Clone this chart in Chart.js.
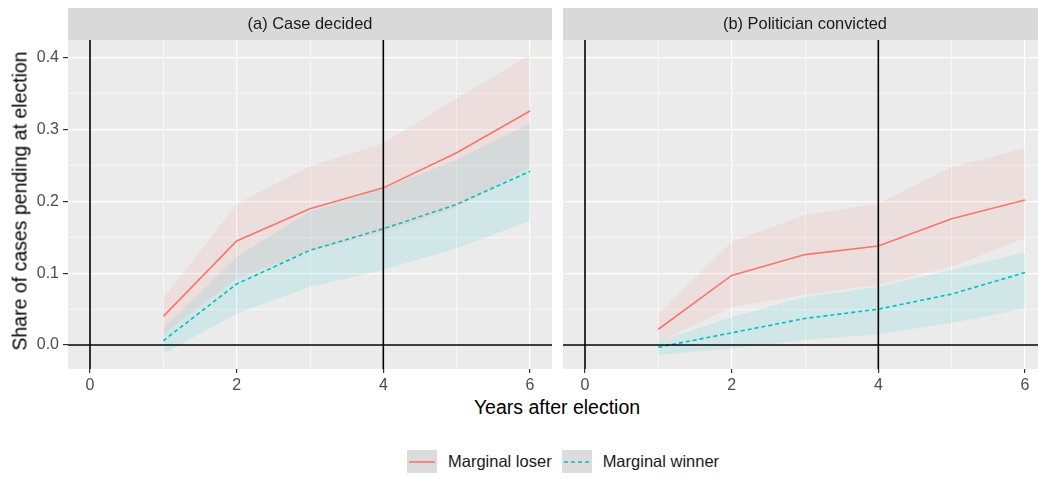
<!DOCTYPE html>
<html>
<head>
<meta charset="utf-8">
<script src="https://cdn.jsdelivr.net/npm/chart.js@4/dist/chart.umd.min.js"></script>
<style>
    html, body { margin: 0; padding: 0; background: #fff; width: 1038px; height: 479px; overflow: hidden; position: relative; font-family: "Liberation Sans", Arial, sans-serif; }
    .panel { position: absolute; }
    #ytitle { position: absolute; left: 20px; top: 201px; transform: translate(-50%, -50%) rotate(-90deg); font-size: 19.5px; color: #000; white-space: nowrap; }
    #xtitle { position: absolute; left: 557px; top: 407px; transform: translate(-50%, -50%); font-size: 19.5px; color: #000; white-space: nowrap; }
    #legend { position: absolute; left: 407px; top: 450px; display: flex; align-items: center; font-size: 16.5px; color: #1a1a1a; }
    .key { width: 30px; height: 23px; background: #DCDCDC; display: flex; align-items: center; justify-content: center; }
    .lab { margin-left: 11px; margin-right: 10px; }
</style>
</head>
<body>
<div class="panel" style="left:0; top:8px; width:552px; height:385px;"><canvas id="panelA"></canvas></div>
<div class="panel" style="left:563px; top:8px; width:484px; height:385px;"><canvas id="panelB"></canvas></div>
<div id="ytitle">Share of cases pending at election</div>
<div id="xtitle">Years after election</div>
<div id="legend">
    <div class="key"><svg width="30" height="23"><line x1="2" y1="12" x2="28" y2="12" stroke="#F8766D" stroke-width="1.6"/></svg></div>
    <span class="lab">Marginal loser</span>
    <div class="key"><svg width="30" height="23"><line x1="2" y1="12" x2="28" y2="12" stroke="#00BFC4" stroke-width="1.6" stroke-dasharray="4,3"/></svg></div>
    <span class="lab">Marginal winner</span>
</div>
<script>
// data
const years = [1, 2, 3, 4, 5, 6];

const loserA    = [0.040, 0.145, 0.190, 0.219, 0.268, 0.326];
const loserAHi  = [0.065, 0.197, 0.249, 0.281, 0.344, 0.404];
const loserALo  = [0.015, 0.093, 0.131, 0.157, 0.192, 0.248];
const winnerA   = [0.006, 0.085, 0.132, 0.162, 0.196, 0.242];
const winnerAHi = [0.023, 0.123, 0.186, 0.218, 0.258, 0.309];
const winnerALo = [-0.012, 0.044, 0.081, 0.105, 0.135, 0.173];

const loserB    = [0.022, 0.097, 0.126, 0.138, 0.176, 0.202];
const loserBHi  = [0.044, 0.144, 0.181, 0.197, 0.248, 0.274];
const loserBLo  = [0.004, 0.053, 0.070, 0.084, 0.109, 0.149];
const winnerB   = [-0.003, 0.017, 0.037, 0.050, 0.071, 0.101];
const winnerBHi = [0.005, 0.039, 0.067, 0.081, 0.105, 0.129];
const winnerBLo = [-0.014, -0.005, 0.007, 0.015, 0.031, 0.051];

const yTicks = [0, 0.05, 0.1, 0.15, 0.2, 0.25, 0.3, 0.35, 0.4];
const xTicks = [0, 1, 2, 3, 4, 5, 6];
const vLines = [0, 4];
const hLines = [0];

const RED = '#F8766D', TEAL = '#00BFC4';
const FONT = '"Liberation Sans", Arial, sans-serif';

function pts(ys) { return years.map((x, i) => ({ x: x, y: ys[i] })); }

const isMajorY = v => Math.abs(Math.round(v * 10) - v * 10) < 1e-6;
const isMajorX = v => v % 2 === 0;

const panelPlugin = {
    id: 'panel',
    beforeDraw(chart, args, opts) {
        const { ctx, chartArea: a } = chart;
        ctx.save();
        ctx.fillStyle = '#EBEBEB';
        ctx.fillRect(a.left, a.top, a.right - a.left, a.bottom - a.top);
        ctx.fillStyle = '#D9D9D9';
        ctx.fillRect(a.left, a.top - 32, a.right - a.left, 32);
        ctx.fillStyle = '#1A1A1A';
        ctx.font = '16.4px ' + FONT;
        ctx.textAlign = 'center';
        ctx.textBaseline = 'middle';
        ctx.fillText(opts.title, (a.left + a.right) / 2, a.top - 15.5);
        ctx.restore();
    },
    afterDatasetsDraw(chart) {
        const { ctx, chartArea: a, scales } = chart;
        ctx.save();
        ctx.beginPath();
        ctx.rect(a.left, a.top, a.right - a.left, a.bottom - a.top);
        ctx.clip();
        ctx.strokeStyle = '#000';
        ctx.lineWidth = 1.6;
        vLines.forEach(v => {
            const px = scales.x.getPixelForValue(v);
            ctx.beginPath(); ctx.moveTo(px, a.top); ctx.lineTo(px, a.bottom); ctx.stroke();
        });
        hLines.forEach(v => {
            const py = scales.y.getPixelForValue(v);
            ctx.beginPath(); ctx.moveTo(a.left, py); ctx.lineTo(a.right, py); ctx.stroke();
        });
        ctx.restore();
    }
};

function makePanel(id, title, showY, s) {
    const band = (data, color, fill) => ({
        data: pts(data), borderWidth: 0, pointRadius: 0, fill: fill,
        backgroundColor: color, borderColor: 'transparent'
    });
    new Chart(document.getElementById(id), {
        type: 'line',
        data: {
            datasets: [
                band(s.loLo, 'rgba(248,118,109,0.11)', false),
                band(s.loHi, 'rgba(248,118,109,0.11)', '-1'),
                band(s.wiLo, 'rgba(0,191,196,0.11)', false),
                band(s.wiHi, 'rgba(0,191,196,0.11)', '-1'),
                { data: pts(s.lo), borderColor: RED, borderWidth: 1.6, pointRadius: 0, fill: false, tension: 0 },
                { data: pts(s.wi), borderColor: TEAL, borderWidth: 1.6, borderDash: [4, 3], pointRadius: 0, fill: false, tension: 0 }
            ]
        },
        options: {
            responsive: true,
            maintainAspectRatio: false,
            animation: false,
            events: [],
            layout: { padding: { top: 32, left: 0, right: 0, bottom: 0 } },
            plugins: { legend: { display: false }, tooltip: { enabled: false }, panel: { title: title } },
            scales: {
                x: {
                    type: 'linear', min: -0.3, max: 6.3,
                    afterBuildTicks: sc => { sc.ticks = xTicks.map(v => ({ value: v })); },
                    afterFit: sc => { sc.height = 24; sc.paddingLeft = 0; sc.paddingRight = 0; },
                    border: { display: false },
                    grid: {
                        color: '#FFFFFF',
                        lineWidth: c => isMajorX(c.tick.value) ? 1.2 : 0.6,
                        tickColor: c => isMajorX(c.tick.value) ? '#333333' : 'rgba(0,0,0,0)',
                        tickLength: 4
                    },
                    ticks: {
                        color: '#4D4D4D', padding: 3, maxRotation: 0, autoSkip: false,
                        font: { size: 16, family: FONT },
                        callback: v => isMajorX(v) ? String(v) : ''
                    }
                },
                y: {
                    type: 'linear', min: -0.0334, max: 0.425,
                    afterBuildTicks: sc => { sc.ticks = yTicks.map(v => ({ value: v })); },
                    afterFit: sc => { sc.width = showY ? 68 : 0; sc.paddingTop = 0; sc.paddingBottom = 0; },
                    border: { display: false },
                    grid: {
                        color: '#FFFFFF',
                        lineWidth: c => isMajorY(c.tick.value) ? 1.2 : 0.6,
                        drawTicks: showY,
                        tickColor: c => isMajorY(c.tick.value) ? '#333333' : 'rgba(0,0,0,0)',
                        tickLength: 5
                    },
                    ticks: {
                        display: showY, color: '#4D4D4D', padding: 4, autoSkip: false,
                        font: { size: 16, family: FONT },
                        callback: v => isMajorY(v) ? v.toFixed(1) : ''
                    }
                }
            }
        },
        plugins: [panelPlugin]
    });
}

makePanel('panelA', '(a) Case decided', true,
    { lo: loserA, loHi: loserAHi, loLo: loserALo, wi: winnerA, wiHi: winnerAHi, wiLo: winnerALo });
makePanel('panelB', '(b) Politician convicted', false,
    { lo: loserB, loHi: loserBHi, loLo: loserBLo, wi: winnerB, wiHi: winnerBHi, wiLo: winnerBLo });
</script>
</body>
</html>
